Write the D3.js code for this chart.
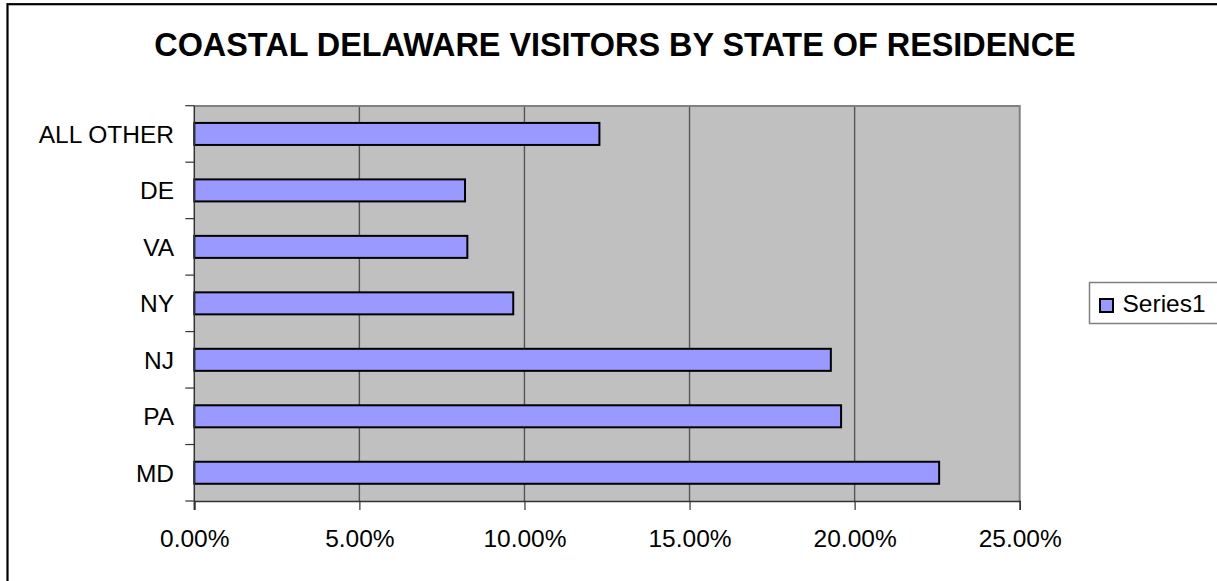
<!DOCTYPE html>
<html>
<head>
<meta charset="utf-8">
<script src="https://cdn.jsdelivr.net/npm/d3@7"></script>
<style>
  html, body { margin: 0; padding: 0; background: #fff; }
  svg { display: block; font-family: Arial, "Liberation Sans", sans-serif; }
</style>
</head>
<body>
<svg id="chart" width="1217" height="581"></svg>
<script>
// Share of coastal Delaware visitors, by state of residence (percent)
const categories = ["ALL OTHER", "DE", "VA", "NY", "NJ", "PA", "MD"];
const shares = [12.27, 8.20, 8.27, 9.66, 19.28, 19.59, 22.56];
const xTicks = [0, 5, 10, 15, 20, 25];
const seriesName = "Series1";
const title = "COASTAL DELAWARE VISITORS BY STATE OF RESIDENCE";

const svg = d3.select("#chart");

const plot = { left: 194.3, right: 1019.7, top: 105.7, bottom: 501 };

const x = d3.scaleLinear().domain([0, 25]).range([plot.left, plot.right]);
const y = d3.scaleBand().domain(categories).range([plot.top, plot.bottom]).padding(0);

// outer chart frame
svg.append("rect")
  .attr("x", 7.5).attr("y", 4.2)
  .attr("width", 1240).attr("height", 600)
  .attr("fill", "none").attr("stroke", "#000").attr("stroke-width", 2.2);

// title
svg.append("text")
  .attr("x", 615).attr("y", 56)
  .attr("text-anchor", "middle")
  .attr("font-weight", "bold")
  .attr("font-size", 32.4)
  .text(title);

// plot background
svg.append("rect")
  .attr("x", plot.left).attr("y", plot.top)
  .attr("width", plot.right - plot.left).attr("height", plot.bottom - plot.top)
  .attr("fill", "#c0c0c0");

// vertical gridlines
svg.append("g").selectAll("line")
  .data(xTicks.filter(d => d > 0 && d < 25))
  .join("line")
  .attr("x1", d => x(d)).attr("x2", d => x(d))
  .attr("y1", plot.top).attr("y2", plot.bottom)
  .attr("stroke", "#555").attr("stroke-width", 1.4);

// plot border (top and right)
svg.append("path")
  .attr("d", `M${plot.left},${plot.top + 0.3}H${plot.right}V${plot.bottom}`)
  .attr("fill", "none").attr("stroke", "#808080").attr("stroke-width", 2);

// bars
const barH = y.bandwidth() * 0.39;
svg.append("g").selectAll("rect")
  .data(categories.map((c, i) => ({ c, v: shares[i] })))
  .join("rect")
  .attr("x", x(0))
  .attr("y", d => y(d.c) + (y.bandwidth() - barH) / 2)
  .attr("width", d => x(d.v) - x(0))
  .attr("height", barH)
  .attr("fill", "#9999ff")
  .attr("stroke", "#000").attr("stroke-width", 2);

// x axis
const xAxis = d3.axisBottom(x)
  .tickValues(xTicks)
  .tickSize(9)
  .tickPadding(20)
  .tickFormat(d => d.toFixed(2) + "%");
const gx = svg.append("g")
  .attr("transform", `translate(0,${plot.bottom})`)
  .call(xAxis);
gx.select(".domain").attr("stroke", "#333").attr("stroke-width", 1.5);
gx.selectAll(".tick line").attr("stroke", "#333").attr("stroke-width", 1.2);
gx.selectAll(".tick text")
  .attr("font-family", "Arial, 'Liberation Sans', sans-serif")
  .attr("font-size", 24.5).attr("fill", "#000");

// y axis: ticks at category boundaries, labels centred on bands
const bounds = categories.map(c => y(c)).concat([plot.bottom]);
const gy = svg.append("g");
gy.append("line")
  .attr("x1", plot.left).attr("x2", plot.left)
  .attr("y1", plot.top).attr("y2", plot.bottom + 9)
  .attr("stroke", "#333").attr("stroke-width", 1.5);
gy.selectAll("line.tick")
  .data(bounds)
  .join("line")
  .attr("class", "tick")
  .attr("x1", plot.left - 9).attr("x2", plot.left)
  .attr("y1", d => d).attr("y2", d => d)
  .attr("stroke", "#333").attr("stroke-width", 1.2);
gy.selectAll("text")
  .data(categories)
  .join("text")
  .attr("x", 174)
  .attr("y", d => y(d) + y.bandwidth() / 2)
  .attr("dy", "0.36em")
  .attr("text-anchor", "end")
  .attr("font-size", 24.5)
  .text(d => d);

// legend
const lg = svg.append("g");
lg.append("rect")
  .attr("x", 1089.5).attr("y", 282.5)
  .attr("width", 140).attr("height", 41)
  .attr("fill", "#fff").attr("stroke", "#808080").attr("stroke-width", 1.5);
lg.append("rect")
  .attr("x", 1100).attr("y", 299)
  .attr("width", 13).attr("height", 13)
  .attr("fill", "#9999ff").attr("stroke", "#000").attr("stroke-width", 2);
lg.append("text")
  .attr("x", 1122.5).attr("y", 312)
  .attr("font-size", 24.5)
  .text(seriesName);
</script>
</body>
</html>
